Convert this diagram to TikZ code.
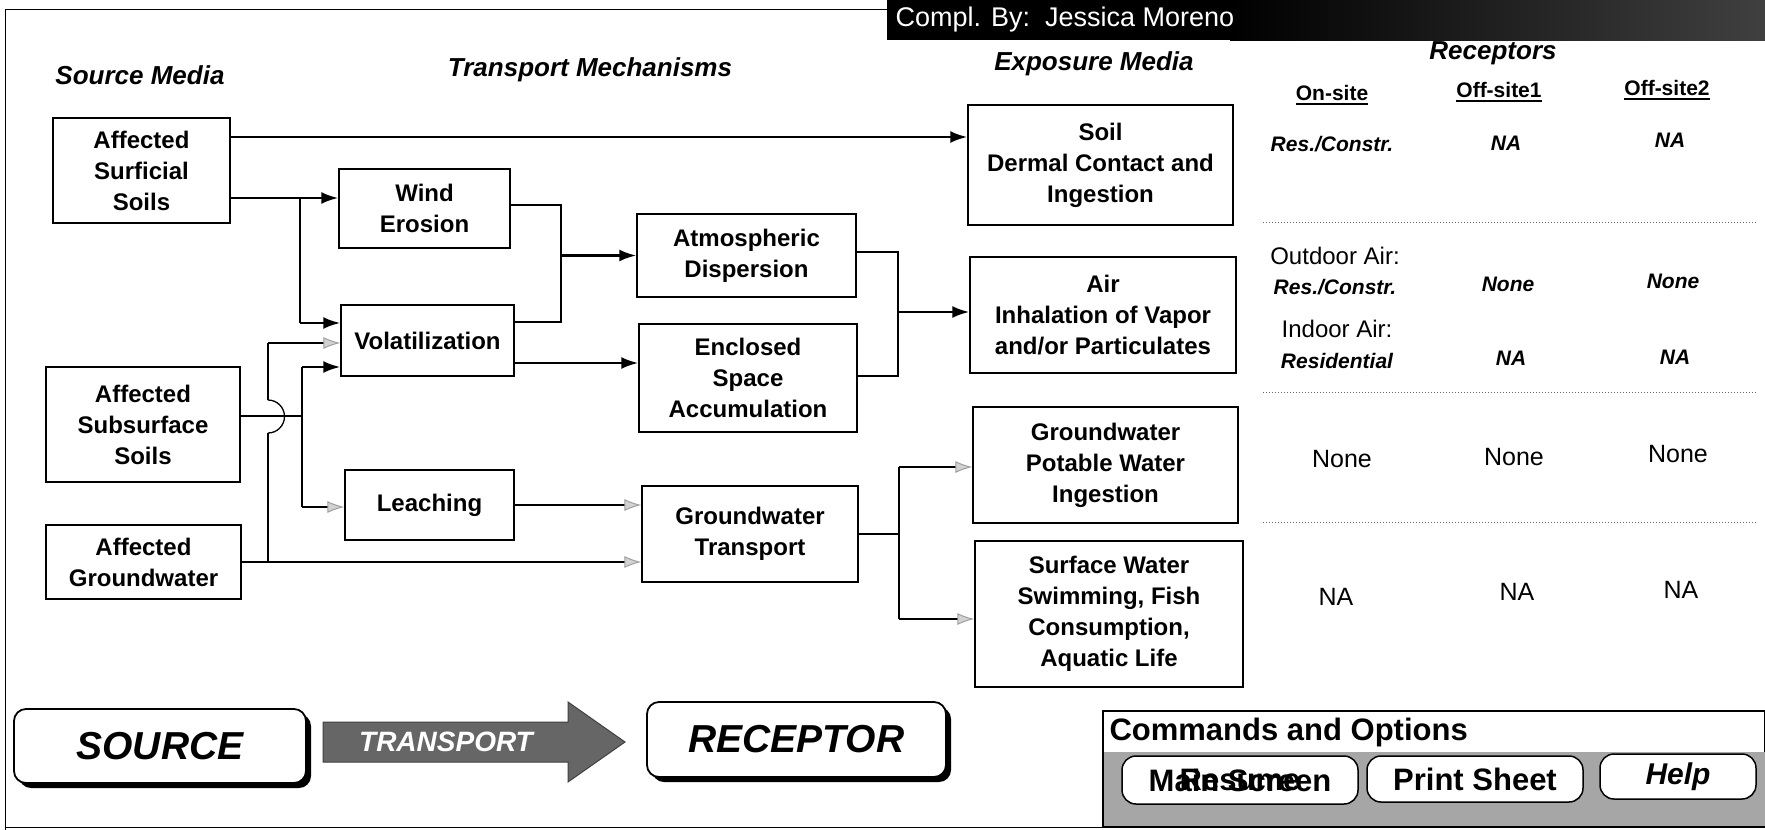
\documentclass[tikz,border=0pt]{standalone}
\usepackage{fontspec}
\setmainfont{Liberation Sans}
\newcommand{\myul}[1]{\setbox0=\hbox{#1}\rlap{\vrule height -2.2pt depth 4pt width \wd0}\box0}
\usetikzlibrary{arrows.meta,shadows,calc}
\begin{document}
\begin{tikzpicture}[x=1pt,y=-1pt,
  box/.style={draw, line width=1.4pt, align=center, inner sep=0pt, font=\fontsize{24}{31}\selectfont\bfseries},
  hdr/.style={font=\fontsize{26}{30}\selectfont\bfseries\itshape},
  colh/.style={font=\fontsize{21}{25}\selectfont\bfseries},
  bi/.style={font=\fontsize{21}{25}\selectfont\bfseries\itshape},
  rg/.style={font=\fontsize{24}{28}\selectfont},
  rgb/.style={font=\fontsize{25}{29}\selectfont},
  conn/.style={line width=2.5pt},
  arr/.style={conn, -{Latex[length=17pt,width=12pt]}},
  garr/.style={conn, -{Latex[length=17pt,width=12pt,fill=gray!35,color=gray!75,line width=1pt]}},
  dots/.style={line width=1pt, dotted, black!60},
  big/.style={draw, line width=1.8pt, rounded corners=12pt, fill=white,
     drop shadow={shadow xshift=5pt, shadow yshift=-5pt, opacity=1, fill=black},
     font=\fontsize{39}{44}\selectfont\bfseries\itshape},
  btn/.style={draw, line width=1.5pt, rounded corners=14pt, fill=white, font=\fontsize{31}{35}\selectfont\bfseries}
]
\useasboundingbox (0,0) rectangle (1765,830);
\fill[white] (0,0) rectangle (1765,830);

% frame
\draw[line width=1pt] (887,9) -- (5,9) -- (5,830);
\draw[line width=1pt] (5,827) -- (1103,827);

% top bar
\fill[black] (887,0) rectangle (1765,40);
\shade[left color=black, right color=black!75] (1230,0) rectangle (1765,40);
\node[anchor=west, text=white, font=\fontsize{27}{30}\selectfont] (compl) at (892,20) {Compl. By:\ \ Jessica Moreno};

% headers
\node[hdr] (hsrc) at (140,75) {Source Media};
\node[hdr] (htr) at (590,70) {Transport Mechanisms};
\node[hdr] (hexp) at (1094,64) {Exposure Media};
\node[hdr] (hrec) at (1493,53) {Receptors};
\node[colh] (hon) at (1332,95) {\myul{On-site}};
\node[colh] (hoff1) at (1499,92) {\myul{Off-site1}};
\node[colh] (hoff2) at (1667,90) {\myul{Off-site2}};

% boxes
\node[box, minimum width=177, minimum height=105] (surf) at (141.5,170.5) {Affected\\Surficial\\Soils};
\node[box, minimum width=194, minimum height=115] (subs) at (143,424.5) {Affected\\Subsurface\\Soils};
\node[box, minimum width=195, minimum height=74] (agw) at (143.5,562) {Affected\\Groundwater};
\node[box, minimum width=171, minimum height=79] (wind) at (424.5,208.5) {Wind\\Erosion};
\node[box, minimum width=173, minimum height=71] (vol) at (427.5,340.5) {Volatilization};
\node[box, minimum width=169, minimum height=70] (leach) at (429.5,505) {Leaching};
\node[box, minimum width=219, minimum height=83] (atm) at (746.5,255.5) {Atmospheric\\Dispersion};
\node[box, minimum width=218, minimum height=108] (encl) at (748,378) {Enclosed\\Space\\Accumulation};
\node[box, minimum width=216, minimum height=96] (gwt) at (750,534) {Groundwater\\Transport};
\node[box, minimum width=265, minimum height=120] (soil) at (1100.5,165) {Soil\\Dermal Contact and\\Ingestion};
\node[box, minimum width=266, minimum height=116] (air) at (1103,315) {Air\\Inhalation of Vapor\\and/or Particulates};
\node[box, minimum width=265, minimum height=116] (pot) at (1105.5,465) {Groundwater\\Potable Water\\Ingestion};
\node[box, minimum width=268, minimum height=146] (surfw) at (1109,614) {Surface Water\\Swimming, Fish\\Consumption,\\Aquatic Life};

% connectors
\coordinate (s1) at ([yshift=33.5pt]surf.east);
\draw[arr] (s1) -- (s1 -| soil.west);
\coordinate (s2) at ([yshift=-27.5pt]surf.east);
\coordinate (j1) at (300,198);
\coordinate (j1b) at (300,323);
\draw[conn] (s2) -- (j1) -- (j1b);
\draw[arr] (j1) -- (j1 -| wind.west);
\draw[arr] (j1b) -- (j1b -| vol.west);

\coordinate (w1) at ([yshift=3.5pt]wind.east);
\coordinate (j2a) at (561,205);
\coordinate (j2b) at (561,322);
\coordinate (j2c) at (561,255.5);
\draw[conn] (w1) -- (j2a) -- (j2b) -- (j2b -| vol.east);
\draw[arr] (j2c) -- (atm.west);

\coordinate (v1) at ([yshift=-22.5pt]vol.east);
\draw[arr] (v1) -- (v1 -| encl.west);

\coordinate (a1) at ([yshift=3.5pt]atm.east);
\coordinate (j3a) at (898,252);
\coordinate (j3b) at (898,376);
\coordinate (j3c) at (898,312);
\draw[conn] (a1) -- (j3a) -- (j3b) -- (j3b -| encl.east);
\draw[arr] (j3c) -- (j3c -| air.west);

\coordinate (b1) at ([yshift=8.5pt]subs.east);
\coordinate (j4) at (302,416);
\coordinate (j4a) at (302,367);
\coordinate (j4b) at (302,507);
\draw[conn] (b1) -- (j4);
\draw[conn] (j4a) -- (j4b);
\draw[arr] (j4a) -- (j4a -| vol.west);
\draw[garr] (j4b) -- (j4b -| leach.west);

\coordinate (g1) at (agw.east);
\draw[garr] (g1) -- (g1 -| gwt.west);
\coordinate (j5) at (268,562);
\coordinate (j5a) at (268,433);
\coordinate (j5b) at (268,400);
\coordinate (j5c) at (268,343);
\draw[conn] (j5) -- (j5a);
\draw[line width=1.3pt] (j5a) arc[start angle=90, end angle=-90, radius=16.5];
\draw[conn] (j5b) -- (j5c);
\draw[garr] (j5c) -- (j5c -| vol.west);

\draw[garr] (leach.east) -- (leach.east -| gwt.west);

\coordinate (j6) at (899,534);
\coordinate (j6a) at (899,467);
\coordinate (j6b) at (899,619);
\draw[conn] (gwt.east) -- (j6);
\draw[conn] (j6a) -- (j6b);
\draw[garr] (j6a) -- (j6a -| pot.west);
\draw[garr] (j6b) -- (j6b -| surfw.west);

% receptor table
\node[bi] (r1a) at (1332,144) {Res./Constr.};
\node[bi] (r1b) at (1506,143) {NA};
\node[bi] (r1c) at (1670,140) {NA};
\draw[dots] (1263,222) -- (1756,222);
\node[rg] (r2o) at (1335,256) {Outdoor Air:};
\node[bi] (r2a) at (1335,287) {Res./Constr.};
\node[bi] (r2b) at (1508,284) {None};
\node[bi] (r2c) at (1673,281) {None};
\node[rg] (r2i) at (1337,329) {Indoor Air:};
\node[bi] (r2d) at (1337,361) {Residential};
\node[bi] (r2e) at (1511,358) {NA};
\node[bi] (r2f) at (1675,357) {NA};
\draw[dots] (1263,392) -- (1756,392);
\node[rgb] (r3a) at (1342,459) {None};
\node[rgb] (r3b) at (1514,457) {None};
\node[rgb] (r3c) at (1678,454) {None};
\draw[dots] (1263,522) -- (1756,522);
\node[rgb] (r4a) at (1336,597) {NA};
\node[rgb] (r4b) at (1517,592) {NA};
\node[rgb] (r4c) at (1681,590) {NA};

% bottom legend
\node[big, minimum width=292, minimum height=74] (src) at (160,746) {SOURCE};
\draw[fill=black!60, draw=black!75, line width=1pt] (323,722) -- (568,722) -- (568,702) -- (625,742) -- (568,782) -- (568,762) -- (323,762) -- cycle;
\node[font=\fontsize{28}{32}\selectfont\bfseries\itshape, text=white] (trt) at (446,742) {TRANSPORT};
\node[big, minimum width=299, minimum height=75] (rec) at (796.5,739.5) {RECEPTOR};

% commands panel
\draw[line width=1.3pt, fill=white] (1103,711) rectangle (1765,827);
\fill[black!35] (1104,752) rectangle (1765,826);
\node[anchor=west, font=\fontsize{31}{35}\selectfont\bfseries] (cmd) at (1106,732) {Commands and Options};
\node[btn, minimum width=236, minimum height=48] (bt1) at (1240,780) {Main Screen};
\node[font=\fontsize{31}{35}\selectfont\bfseries] (bt1r) at (bt1.center) {Resume};
\node[btn, minimum width=216, minimum height=46] (bt2) at (1475,779) {Print Sheet};
\node[btn, minimum width=156, minimum height=45, font=\fontsize{30}{34}\selectfont\bfseries\itshape] (bt3) at (1678,776.5) {Help};
\end{tikzpicture}
\end{document}
